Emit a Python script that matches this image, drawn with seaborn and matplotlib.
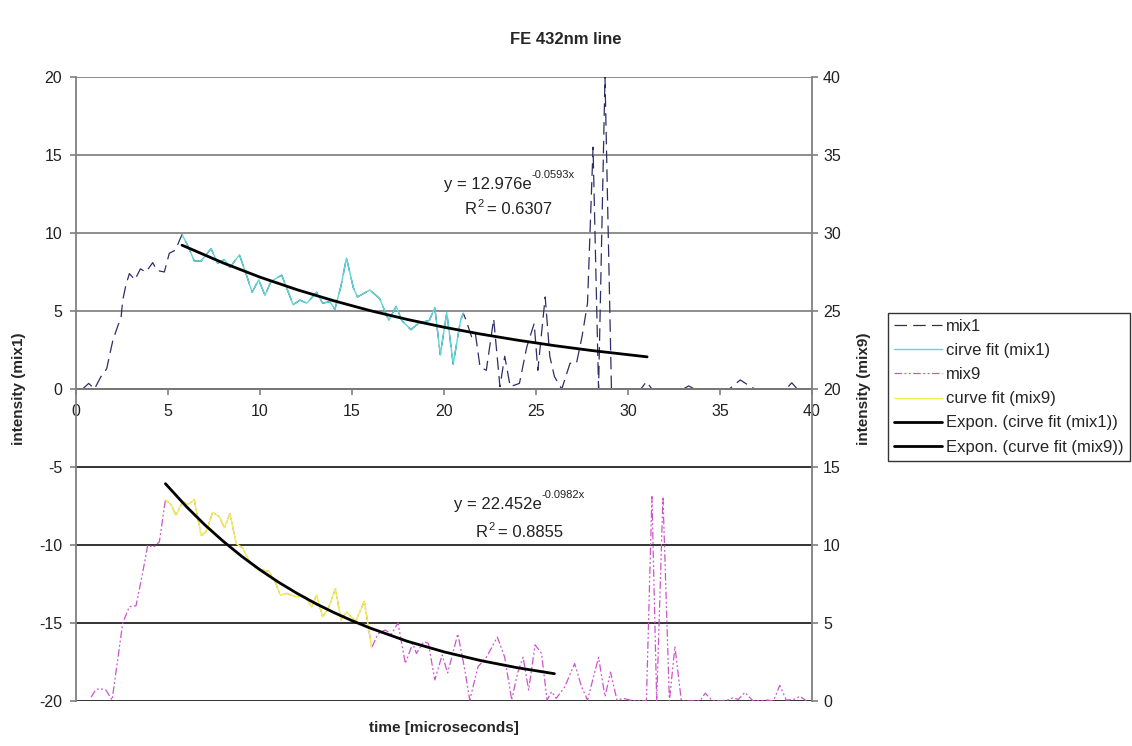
import numpy as np
import pandas as pd
import matplotlib
matplotlib.use("Agg")
import matplotlib.pyplot as plt
import seaborn as sns

# ---------------- data ----------------
mix1_t = [0.36, 0.69, 1.0, 1.36, 1.67, 1.85, 2.0, 2.26, 2.45, 2.54, 2.7, 2.9, 3.2, 3.5, 3.8,
          4.17, 4.4, 4.8, 5.07, 5.4, 5.76, 6.07, 6.43, 6.8, 7.34, 7.7, 8.06, 8.37, 8.88, 9.24,
          9.57, 9.93, 10.27, 10.6, 11.18, 11.8, 12.17, 12.54, 13.08, 13.4, 13.8, 14.07, 14.4,
          14.7, 15.07, 15.3, 15.97, 16.5, 17.0, 17.4, 17.7, 18.2, 18.6, 19.2, 19.5, 19.8,
          20.15, 20.5, 20.9, 21.05, 21.2, 21.5, 21.7, 21.96, 22.3, 22.7, 23.04, 23.3, 23.6,
          24.1, 24.5, 24.9, 25.1, 25.5, 25.75, 26.0, 26.4, 26.85, 27.2, 27.5, 27.8, 28.1,
          28.4, 28.75, 29.1, 29.5, 30.0, 30.7, 31.0, 31.3, 32.0, 33.0, 33.3, 33.6, 35.5,
          36.1, 36.6, 36.9, 38.6, 38.9, 39.2, 40.0]
mix1_v = [0.0, 0.36, 0.0, 0.8, 1.3, 2.3, 3.1, 4.0, 4.6, 5.7, 6.6, 7.4, 7.0, 7.7, 7.5,
          8.1, 7.6, 7.5, 8.7, 8.9, 9.9, 9.2, 8.2, 8.2, 9.0, 8.05, 8.3, 7.8, 8.6, 7.4,
          6.2, 7.0, 6.0, 6.9, 7.3, 5.4, 5.7, 5.5, 6.2, 5.5, 5.6, 5.1, 6.6,
          8.4, 6.5, 5.9, 6.35, 5.8, 4.4, 5.3, 4.4, 3.8, 4.2, 4.4, 5.2, 2.2,
          4.9, 1.6, 4.4, 4.85, 4.4, 3.35, 3.6, 1.4, 1.2, 4.5, 0.15, 2.1, 0.15,
          0.36, 2.7, 4.2, 1.2, 5.9, 2.1, 0.8, 0.0, 1.65, 1.65, 3.35, 5.5, 15.5,
          0.0, 20.0, 0.0, 0.0, 0.0, 0.0, 0.47, 0.0, 0.0, 0.0, 0.2, 0.0, 0.0,
          0.58, 0.2, 0.0, 0.0, 0.4, 0.0, 0.0]

fit1_t = [5.76, 6.07, 6.43, 6.8, 7.34, 7.7, 8.06, 8.37, 8.88, 9.24, 9.57, 9.93, 10.27, 10.6,
          11.18, 11.8, 12.17, 12.54, 13.08, 13.4, 13.8, 14.07, 14.4, 14.7, 15.07, 15.3,
          15.97, 16.5, 17.0, 17.4, 17.7, 18.2, 18.6, 19.2, 19.5, 19.8, 20.15, 20.5, 20.9, 21.05]
fit1_v = [9.9, 9.2, 8.2, 8.2, 9.0, 8.05, 8.3, 7.8, 8.6, 7.4, 6.2, 7.0, 6.0, 6.9,
          7.3, 5.4, 5.7, 5.5, 6.2, 5.5, 5.6, 5.1, 6.6, 8.4, 6.5, 5.9,
          6.35, 5.8, 4.4, 5.3, 4.4, 3.8, 4.2, 4.4, 5.2, 2.2, 4.9, 1.6, 4.4, 4.85]

mix9_t = [0.82, 1.05, 1.27, 1.63, 1.96, 2.26, 2.54, 2.9, 3.26, 3.62, 3.9, 4.2, 4.53, 4.86,
          5.16, 5.43, 5.8, 6.1, 6.43, 6.8, 7.07, 7.43, 7.8, 8.06, 8.37, 8.7, 9.06, 9.4, 9.78,
          10.14, 10.5, 10.87, 11.09, 11.45, 11.9, 12.45, 12.8, 13.08, 13.4, 13.7, 14.1, 14.4,
          14.7, 15.2, 15.67, 16.07, 16.4, 16.8, 17.15, 17.5, 17.9, 18.3, 18.5, 18.9, 19.15,
          19.5, 19.9, 20.2, 20.75, 21.1, 21.4, 21.85, 22.3, 22.9, 23.3, 23.68, 24.0, 24.3,
          24.6, 24.95, 25.3, 25.6, 25.85, 26.1, 26.56, 27.1, 27.48, 27.8, 28.4, 28.75, 29.05,
          29.4, 29.75, 30.3, 31.0, 31.3, 31.56, 31.9, 32.25, 32.55, 32.9, 33.9, 34.2, 34.6,
          35.3, 35.7, 36.0, 36.35, 36.8, 37.6, 37.9, 38.25, 38.6, 39.0, 39.35, 39.7]
mix9_v = [0.24, 0.7, 0.8, 0.7, 0.06, 2.6, 5.0, 6.05, 6.1, 8.2, 10.0, 9.85, 10.2, 12.9,
          12.6, 11.9, 12.8, 12.6, 12.9, 10.6, 10.85, 12.1, 11.8, 11.1, 12.0, 10.1, 9.8, 9.0, 8.5,
          8.4, 8.3, 7.5, 6.8, 6.9, 6.7, 6.7, 6.05, 6.8, 5.4, 5.9, 7.2, 5.2,
          5.7, 5.1, 6.4, 3.4, 4.3, 4.55, 4.3, 5.0, 2.4, 3.7, 3.05, 3.8, 3.7,
          1.35, 2.95, 1.8, 4.3, 2.2, 0.06, 2.2, 2.8, 4.1, 2.8, 0.06, 1.8, 2.8,
          0.7, 3.6, 3.05, 0.06, 0.6, 0.17, 0.9, 2.4, 0.9, 0.06, 2.8, 0.28, 1.85,
          0.06, 0.17, 0.0, 0.0, 13.1, 0.0, 13.1, 0.0, 3.5, 0.0, 0.0, 0.5, 0.0,
          0.0, 0.2, 0.1, 0.55, 0.0, 0.06, 0.0, 1.0, 0.06, 0.1, 0.3, 0.0]

fit9_t = [4.86, 5.16, 5.43, 5.8, 6.1, 6.43, 6.8, 7.07, 7.43, 7.8, 8.06, 8.37, 8.7, 9.06, 9.4,
          9.78, 10.14, 10.5, 10.87, 11.09, 11.45, 11.9, 12.45, 12.8, 13.08, 13.4, 13.7, 14.1,
          14.4, 14.7, 15.2, 15.67, 16.07]
fit9_v = [12.9, 12.6, 11.9, 12.8, 12.6, 12.9, 10.6, 10.85, 12.1, 11.8, 11.1, 12.0, 10.1, 9.8, 9.0,
          8.5, 8.4, 8.3, 7.5, 6.8, 6.9, 6.7, 6.7, 6.05, 6.8, 5.4, 5.9, 7.2,
          5.2, 5.7, 5.1, 6.4, 3.4]

# exponential trend lines
exp1_t = [5.76, 8, 10, 12, 14, 16, 18, 20, 22, 24, 26, 28, 31.04]
exp1_v = [9.22, 8.08, 7.17, 6.37, 5.66, 5.02, 4.46, 3.96, 3.52, 3.13, 2.78, 2.47, 2.06]
exp9_t = [4.86, 6, 7, 8, 9, 10, 11, 12, 13, 14, 15, 16, 18, 20, 22, 24, 26]
exp9_v = [13.93, 12.46, 11.29, 10.24, 9.28, 8.41, 7.62, 6.91, 6.26, 5.68, 5.15, 4.67,
          3.83, 3.15, 2.59, 2.13, 1.75]

eq1_main, eq1_exp, eq1_r2 = "y = 12.976e", "-0.0593x", "0.6307"
eq9_main, eq9_exp, eq9_r2 = "y = 22.452e", "-0.0982x", "0.8855"

legend_labels = ["mix1", "cirve fit (mix1)", "mix9", "curve fit (mix9)",
                 "Expon. (cirve fit (mix1))", "Expon. (curve fit (mix9))"]

# ---------------- style ----------------
sns.set_style("white")
plt.rcParams["font.family"] = ["Liberation Sans", "DejaVu Sans"]
plt.rcParams["axes.unicode_minus"] = False

W, H = 1132, 746
fig = plt.figure(figsize=(W / 100, H / 100), dpi=100)
L, R, T, B = 76, 812, 77, 701
ax = fig.add_axes([L / W, 1 - B / H, (R - L) / W, (B - T) / H])
ax2 = ax.twinx()

c_mix1 = "#2e2e66"
c_fit1 = "#5cd8d8"
c_mix9 = "#cc55cc"
c_fit9 = "#f0f050"

sns.lineplot(x=mix1_t, y=mix1_v, ax=ax, color=c_mix1, lw=0.9, sort=False, estimator=None,
             linestyle=(0, (10, 5)), label=legend_labels[0], legend=False)
sns.lineplot(x=fit1_t, y=fit1_v, ax=ax, color=c_fit1, lw=1.0, sort=False, estimator=None,
             label=legend_labels[1], legend=False)
sns.lineplot(x=mix9_t, y=mix9_v, ax=ax2, color=c_mix9, lw=0.9, sort=False, estimator=None,
             linestyle=(0, (6, 2, 1.5, 2, 1.5, 2)), label=legend_labels[2], legend=False)
sns.lineplot(x=fit9_t, y=fit9_v, ax=ax2, color=c_fit9, lw=1.0, sort=False, estimator=None,
             label=legend_labels[3], legend=False)
sns.lineplot(x=exp1_t, y=exp1_v, ax=ax, color="black", lw=2.0, sort=False, estimator=None,
             label=legend_labels[4], legend=False)
sns.lineplot(x=exp9_t, y=exp9_v, ax=ax2, color="black", lw=2.0, sort=False, estimator=None,
             label=legend_labels[5], legend=False)

# ---------------- axes ----------------
ax.set_xlim(0, 40)
ax.set_ylim(-20, 20)
ax2.set_ylim(0, 40)
ax.set_xticks(np.arange(0, 41, 5))
ax.set_yticks(np.arange(-20, 21, 5))
ax2.set_yticks(np.arange(0, 41, 5))

ax.set_axisbelow(True)
ax.grid(True, axis="y", lw=1.2)
ax.grid(False, axis="x")
ax2.grid(False)
for gl, v in zip(ax.yaxis.get_gridlines(), np.arange(-20, 21, 5)):
    gl.set_color("#7a7a7a" if v > 0 else "#111111")

gray = "#808080"
ax.spines["bottom"].set_position(("data", 0))
for s in ["top", "right"]:
    ax.spines[s].set_visible(False)
for s in ["top", "left", "bottom"]:
    ax2.spines[s].set_visible(False)
ax.spines["left"].set_color(gray)
ax.spines["bottom"].set_color(gray)
ax2.spines["right"].set_color(gray)
for s in [ax.spines["left"], ax.spines["bottom"], ax2.spines["right"]]:
    s.set_linewidth(1.3)

ax.tick_params(axis="x", direction="out", length=4, width=1.2, color=gray, pad=7,
               labelsize=11.5, labelcolor="#222222", bottom=True)
ax.tick_params(axis="y", direction="out", length=4, width=1.2, color=gray, pad=6,
               labelsize=11.5, labelcolor="#222222", left=True)
ax2.tick_params(axis="y", direction="out", length=4, width=1.2, color=gray, pad=4,
                labelsize=11.5, labelcolor="#222222", right=True)

ax.set_xlabel("time [microseconds]", fontsize=11, fontweight="bold")
ax.xaxis.set_label_coords(0.5, -0.032)
ax.set_ylabel("intensity (mix1)", fontsize=11, fontweight="bold")
ax.yaxis.set_label_coords(-0.068, 0.5)
ax2.set_ylabel("intensity (mix9)", fontsize=11, fontweight="bold", rotation=90)
ax2.yaxis.set_label_coords(1.061, 0.5)

fig.text(0.5, 1 - 40 / H, "FE 432nm line", ha="center", va="center",
         fontsize=12, fontweight="bold")


# equations (main text + superscripts as separate real text)
def equation(x_end, x_r, y1, y2, main, expo, r2):
    t = ax.text(x_end, y1, main, ha="right", va="center", fontsize=12, color="#222222")
    ax.annotate(expo, xy=(1, 0.5), xycoords=t, xytext=(0, 3), textcoords="offset points",
                ha="left", va="bottom", fontsize=8, color="#222222")
    r = ax.text(x_r, y2, "R", ha="left", va="center", fontsize=12, color="#222222")
    s = ax.annotate("2", xy=(1, 0.55), xycoords=r, ha="left", va="bottom", fontsize=8,
                    color="#222222")
    ax.annotate("= " + r2, xy=(1, 0.5), xycoords=(s, r), xytext=(3, 0),
                textcoords="offset points", ha="left", va="center", fontsize=12,
                color="#222222")


equation(24.78, 21.14, 13.1, 11.5, eq1_main, eq1_exp, eq1_r2)
equation(25.3, 21.74, -7.4, -9.2, eq9_main, eq9_exp, eq9_r2)

# legend
h1, l1 = ax.get_legend_handles_labels()
h2, l2 = ax2.get_legend_handles_labels()
hd = dict(zip(l1 + l2, h1 + h2))
handles = [hd[l] for l in legend_labels]
leg = fig.legend(handles, legend_labels, loc="upper left",
                 bbox_to_anchor=(888 / W, 1 - 313 / H), fontsize=12,
                 frameon=True, fancybox=False, shadow=False, handlelength=2.9,
                 handletextpad=0.25, labelspacing=0.55, borderpad=0.35, borderaxespad=0)
leg.get_frame().set_edgecolor("black")
leg.get_frame().set_linewidth(1.0)

fig.savefig("out.png", dpi=100)
